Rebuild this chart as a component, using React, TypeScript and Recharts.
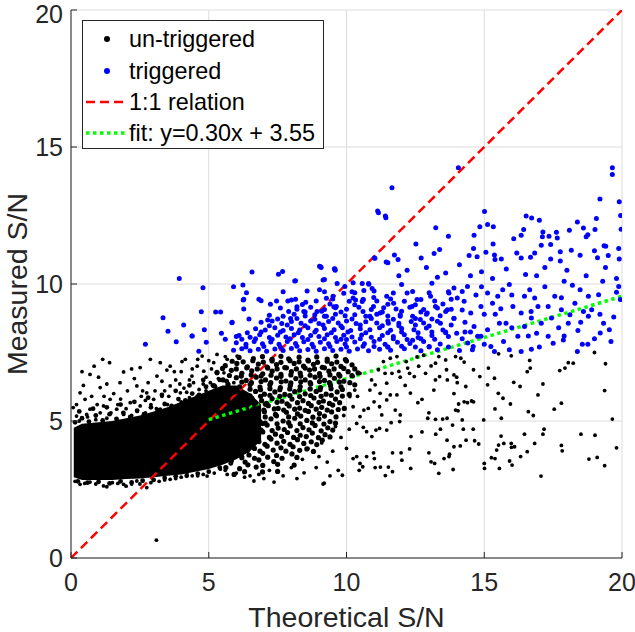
import { ComposedChart, Scatter, Line, Area, XAxis, YAxis, CartesianGrid } from 'recharts'

const xTicks = [0, 5, 10, 15, 20]
const yTicks = [0, 5, 10, 15, 20]

// solid part of the un-triggered cloud: [x, low, high]
const coreBand: [number, number, number][] = [
  [0.1, 2.95, 4.75], [0.4, 2.85, 4.9], [1, 2.85, 4.95], [1.5, 2.85, 5.0], [2, 2.88, 5.1],
  [2.5, 2.9, 5.2], [3, 2.95, 5.35], [3.5, 3.0, 5.5], [4, 3.05, 5.7], [4.5, 3.15, 5.9],
  [5, 3.25, 6.1], [5.5, 3.4, 6.3], [6, 3.6, 6.3], [6.5, 3.9, 6.0], [6.9, 4.3, 5.6],
]

// fuzzy rim of the solid part
const untriggeredEdge: [number, number][] = [
  [0.15, 4.95], [0.4, 5.1], [0.65, 4.98], [0.9, 5.2], [1.15, 5.02], [1.4, 5.25], [1.65, 5.08], [1.9, 5.3], [2.15, 5.15], [2.4, 5.38],
  [2.65, 5.25], [2.9, 5.5], [3.15, 5.4], [3.4, 5.62], [3.65, 5.55], [3.9, 5.8], [4.15, 5.75], [4.4, 6.0], [4.65, 5.95], [4.9, 6.25],
  [5.15, 6.3], [5.4, 6.5], [5.65, 6.45], [0.3, 5.35], [0.8, 5.45], [1.3, 5.5], [1.8, 5.6], [2.3, 5.7], [2.8, 5.85], [3.3, 5.95],
  [3.8, 6.1], [4.3, 6.3], [4.8, 6.5], [5.3, 6.75],
  [0.25, 2.8], [0.6, 2.75], [1.0, 2.78], [1.4, 2.72], [1.8, 2.8], [2.2, 2.76], [2.6, 2.82], [3.0, 2.85], [3.4, 2.92], [3.8, 2.98],
  [4.2, 3.0], [4.6, 3.08], [5.0, 3.15], [5.4, 3.3], [5.8, 3.45], [6.2, 3.7],
  [6.6, 4.2], [6.7, 5.4], [6.95, 4.9], [7.05, 5.6], [6.8, 4.6],
]

// busy part of the un-triggered cloud, x 5..10.5
const untriggeredMid: [number, number][] = [
  [6.1, 7.32], [6.62, 7.28], [6.95, 7.35], [7.3, 7.25], [7.62, 7.36], [7.9, 7.27], [8.28, 7.33], [8.6, 7.22], [8.92, 7.34], [9.3, 7.26], [9.62, 7.37], [9.96, 7.24],
  [5.85, 7.18], [6.25, 7.16], [6.6, 7.2], [6.98, 7.15], [7.3, 7.19], [7.62, 7.14], [7.95, 7.2], [8.28, 7.16], [8.62, 7.19], [8.95, 7.14], [9.3, 7.18], [9.65, 7.15], [10.0, 7.19],
  [5.6, 7.02], [6.02, 7.1], [6.4, 6.98], [6.8, 7.08], [7.12, 6.97], [7.46, 7.06], [7.76, 6.95], [8.1, 7.1], [8.44, 7.0], [8.8, 7.07], [9.12, 6.96], [9.46, 7.09], [9.8, 6.99], [10.2, 7.05],
  [5.5, 6.92], [6.0, 6.9], [6.38, 6.94], [6.76, 6.9], [7.14, 6.93], [7.48, 6.9], [7.82, 6.94], [8.18, 6.9], [8.5, 6.93], [8.84, 6.9], [9.2, 6.94], [9.55, 6.9], [9.9, 6.92], [10.3, 6.9],
  [5.3, 6.78], [5.82, 6.85], [6.2, 6.74], [6.56, 6.83], [6.96, 6.72], [7.3, 6.82], [7.62, 6.7], [8.0, 6.8], [8.32, 6.75], [8.66, 6.86], [9.02, 6.73], [9.36, 6.82], [9.72, 6.7], [10.06, 6.8], [10.42, 6.76],
  [5.75, 6.66], [6.18, 6.64], [6.54, 6.68], [6.9, 6.64], [7.26, 6.67], [7.62, 6.63], [7.98, 6.68], [8.34, 6.64], [8.68, 6.67], [9.04, 6.63], [9.4, 6.68], [9.76, 6.64], [10.2, 6.66],
  [5.52, 6.5], [6.0, 6.58], [6.36, 6.48], [6.72, 6.6], [7.06, 6.5], [7.46, 6.57], [7.8, 6.46], [8.16, 6.55], [8.5, 6.5], [8.86, 6.6], [9.2, 6.48], [9.56, 6.56], [9.9, 6.45],
  [6.2, 6.42], [6.55, 6.4], [6.9, 6.44], [7.25, 6.4], [7.63, 6.43], [7.98, 6.39], [8.34, 6.43], [8.68, 6.4], [9.02, 6.44], [9.38, 6.4], [9.74, 6.42], [10.12, 6.4],
  [5.2, 6.28], [5.7, 6.34], [6.12, 6.25], [6.5, 6.33], [6.86, 6.24], [7.22, 6.32], [7.6, 6.22], [7.96, 6.3], [8.32, 6.26], [8.7, 6.35], [9.06, 6.22], [9.42, 6.3], [9.8, 6.25], [10.3, 6.32],
  [6.5, 6.16], [6.88, 6.14], [7.22, 6.18], [7.58, 6.14], [7.94, 6.17], [8.3, 6.13], [8.68, 6.17], [9.04, 6.14], [9.44, 6.18], [9.85, 6.15],
  [5.9, 6.05], [6.3, 6.0], [6.7, 6.08], [7.02, 5.98], [7.4, 6.06], [7.76, 5.97], [8.12, 6.07], [8.5, 5.99], [8.9, 6.08], [9.26, 5.98], [9.66, 6.06], [10.1, 5.97],
  [6.5, 5.92], [6.88, 5.9], [7.22, 5.94], [7.58, 5.9], [7.94, 5.93], [8.3, 5.89], [8.7, 5.93], [9.08, 5.9], [9.45, 5.94], [9.85, 5.91],
  [5.7, 5.8], [6.16, 5.75], [6.56, 5.84], [6.92, 5.74], [7.3, 5.82], [7.66, 5.72], [8.02, 5.8], [8.42, 5.74], [8.82, 5.84], [9.16, 5.73], [9.6, 5.8],
  [6.7, 5.66], [7.1, 5.64], [7.48, 5.68], [7.84, 5.63], [8.22, 5.67], [8.62, 5.64], [9.0, 5.68], [9.38, 5.64], [9.75, 5.67],
  [5.9, 5.5], [6.4, 5.58], [6.8, 5.47], [7.16, 5.56], [7.52, 5.46], [7.92, 5.55], [8.3, 5.47], [8.72, 5.56], [9.1, 5.5], [9.5, 5.58], [9.92, 5.46],
  [6.6, 5.42], [7.0, 5.4], [7.38, 5.44], [7.72, 5.4], [8.12, 5.43], [8.5, 5.39], [8.9, 5.43], [9.3, 5.4], [9.7, 5.42],
  [6.2, 5.3], [6.6, 5.25], [7.02, 5.34], [7.42, 5.24], [7.82, 5.32], [8.22, 5.26], [8.62, 5.35], [9.02, 5.27], [9.46, 5.33],
  [6.65, 5.17], [7.05, 5.15], [7.46, 5.19], [7.9, 5.15], [8.34, 5.18], [8.78, 5.14], [9.2, 5.18], [9.62, 5.15],
  [6.42, 5.05], [6.86, 4.98], [7.26, 5.08], [7.7, 5.0], [8.12, 5.1], [8.56, 5.02], [9.0, 5.08], [9.4, 4.98],
  [7.05, 4.92], [7.48, 4.9], [7.9, 4.94], [8.32, 4.9], [8.76, 4.93], [9.18, 4.89], [9.6, 4.92],
  [6.3, 4.8], [6.72, 4.76], [7.12, 4.85], [7.52, 4.74], [7.96, 4.82], [8.42, 4.76], [8.86, 4.84], [9.32, 4.75],
  [6.9, 4.67], [7.3, 4.65], [7.74, 4.69], [8.2, 4.65], [8.64, 4.68], [9.08, 4.64], [9.5, 4.67],
  [6.1, 4.55], [6.56, 4.5], [6.96, 4.6], [7.42, 4.52], [7.86, 4.58], [8.32, 4.48], [8.76, 4.56], [9.22, 4.5],
  [6.78, 4.42], [7.2, 4.4], [7.64, 4.44], [8.08, 4.4], [8.54, 4.43], [8.98, 4.39], [9.4, 4.42],
  [6.4, 4.3], [6.82, 4.25], [7.26, 4.34], [7.72, 4.26], [8.22, 4.32], [8.72, 4.24], [9.12, 4.3],
  [6.6, 4.17], [7.04, 4.15], [7.48, 4.19], [7.95, 4.15], [8.45, 4.18], [8.92, 4.14],
  [6.22, 4.05], [6.66, 4.0], [7.12, 4.08], [7.62, 4.02], [8.06, 4.06], [8.56, 3.98],
  [6.4, 3.92], [6.86, 3.9], [7.34, 3.94], [7.8, 3.9], [8.3, 3.93], [8.8, 3.89],
  [6.02, 3.8], [6.46, 3.76], [6.96, 3.82], [7.46, 3.74], [8.02, 3.8],
  [6.2, 3.66], [6.66, 3.64], [7.14, 3.68], [7.66, 3.64], [8.2, 3.67],
  [5.82, 3.55], [6.32, 3.5], [6.82, 3.58], [7.36, 3.52],
  [6.42, 3.4], [6.96, 3.38], [7.5, 3.42], [8.1, 3.39],
  [5.62, 3.3], [6.12, 3.26], [6.72, 3.32], [6.3, 3.15], [6.95, 3.14], [7.5, 3.16], [5.92, 3.05],
]

const untriggeredSparse: [number, number][] = [
  [0.69, 6.7], [1.4, 7.13], [0.84, 7.0], [0.33, 6.03], [0.08, 5.49], [0.51, 5.79], [1.06, 6.22], [1.91, 6.79], [2.51, 6.95], [2.88, 7.25],
  [3.24, 7.13], [3.48, 6.86], [4.03, 7.17], [4.15, 7.25], [4.76, 7.37], [3.12, 6.64], [2.39, 6.28], [2.75, 6.03], [1.78, 6.4], [1.42, 5.79],
  [2.15, 5.67], [3.0, 5.79], [3.6, 6.28], [3.97, 6.03], [4.39, 6.64], [4.58, 7.0], [4.82, 6.82], [0.69, 5.43], [1.18, 5.55], [1.66, 5.43],
  [2.51, 5.55], [0.2, 5.18], [0.57, 5.24], [1.06, 5.3], [1.91, 5.24], [3.24, 5.43], [3.85, 5.55], [4.58, 5.91], [5.06, 6.4], [5.18, 7.13],
  [5.3, 7.43], [5.67, 7.25], [6.03, 7.37], [5.55, 6.76], [5.91, 6.4],
  [0.3, 5.0], [0.9, 5.05], [1.3, 5.1], [1.7, 5.0], [2.2, 5.2], [2.7, 5.3], [3.1, 5.45], [3.5, 5.6], [4.0, 5.7], [4.3, 5.85],
  [4.7, 5.8], [5.2, 5.9], [2.0, 5.45], [2.9, 5.6], [3.3, 5.9], [4.1, 6.2], [4.9, 6.1], [5.4, 6.0], [1.2, 5.9], [2.6, 6.1], [3.8, 6.5], [4.4, 6.9],
  [0.2, 5.6], [0.45, 6.3], [0.75, 5.9], [1.0, 6.6], [1.3, 6.35], [1.55, 6.0], [1.8, 5.8], [2.05, 6.1], [2.3, 6.55], [2.55, 5.9],
  [2.8, 6.4], [3.05, 6.1], [3.3, 6.45], [3.55, 5.9], [3.75, 6.8], [3.95, 6.35], [4.2, 6.05], [4.45, 6.4], [4.65, 6.15], [4.9, 6.6],
  [5.1, 6.9], [5.35, 6.55], [0.6, 5.15], [1.45, 5.3], [2.4, 5.35], [0.95, 5.6], [1.7, 5.6], [2.7, 5.75], [3.4, 6.1], [4.3, 6.5],
  [5.0, 7.2], [4.6, 7.25], [3.6, 7.0], [2.2, 6.9], [1.15, 7.25], [0.4, 6.8], [5.6, 7.35], [5.25, 6.25], [4.8, 6.35], [4.0, 6.8],
  [0.33, 2.69], [1.18, 2.63], [1.91, 2.69], [2.75, 2.57], [0.69, 2.77], [2.39, 2.81], [3.6, 2.87], [4.21, 3.11], [4.94, 2.99], [5.42, 3.24],
  [5.67, 3.05], [6.64, 2.81], [7.37, 2.77], [8.46, 3.11], [9.19, 2.73], [6.82, 3.05], [0.15, 2.8], [1.5, 2.75], [2.2, 2.7], [3.2, 2.8],
  [4.0, 2.95], [4.6, 3.0], [5.2, 3.1], [3.1, 0.65],
  [0.5, 2.72], [0.9, 2.7], [1.3, 2.6], [1.7, 2.72], [2.0, 2.62], [2.5, 2.7], [2.9, 2.75], [3.4, 2.85], [3.8, 2.9], [4.4, 3.0],
  [4.8, 3.05], [5.6, 3.2], [6.0, 3.1], [6.3, 2.95], [7.0, 2.9],
  [9.1, 4.2], [9.5, 3.9], [9.8, 4.4], [9.3, 3.5], [9.7, 3.2], [9.0, 3.7], [8.9, 3.3], [8.4, 3.6], [8.0, 3.3], [7.7, 3.0],
  [8.6, 4.0], [9.6, 4.8], [9.9, 5.2], [10.1, 4.7], [10.4, 5.9], [7.2, 3.2], [6.5, 3.0], [8.2, 2.9], [9.4, 3.0],
  [15.52, 7.45], [15.98, 7.38], [16.65, 7.21], [16.67, 6.93], [16.56, 6.8], [17.74, 6.84], [17.93, 6.93], [18.05, 7.13], [18.23, 7.11], [19.0, 7.5],
  [19.4, 7.09], [19.37, 6.11], [19.65, 5.07], [19.8, 4.02], [19.02, 4.48], [18.51, 4.52], [19.37, 3.37], [19.1, 3.67], [18.8, 3.61], [17.8, 4.11],
  [17.83, 3.91], [17.06, 2.99], [17.17, 4.7], [17.13, 4.52], [16.83, 4.18], [16.56, 3.88], [16.32, 3.7], [16.46, 4.52], [16.1, 4.06], [15.98, 4.18],
  [15.99, 4.04], [15.71, 4.18], [15.61, 4.45], [15.52, 4.12], [15.45, 3.94], [15.39, 3.63], [15.26, 3.66], [15.55, 3.27], [15.92, 3.54], [16.01, 3.39],
  [15.0, 3.45], [15.01, 3.27], [14.98, 5.04], [15.62, 5.1], [15.39, 5.44], [15.95, 5.62], [15.68, 5.83], [15.51, 6.01], [15.12, 6.32], [15.15, 6.93],
  [15.37, 6.56], [16.07, 6.41], [16.3, 6.26], [16.95, 5.95], [17.13, 6.35], [16.6, 5.34], [16.78, 5.2], [17.54, 5.43], [17.8, 5.65], [14.84, 6.62],
  [14.61, 6.87], [14.39, 5.67], [14.61, 5.7], [14.27, 5.7], [14.07, 5.62], [13.96, 5.4], [14.2, 5.04], [14.34, 4.3], [14.65, 4.28], [14.6, 4.7],
  [14.24, 4.7], [14.8, 4.16], [14.13, 4.09], [13.9, 4.06], [13.85, 4.85], [13.65, 4.3], [13.74, 3.79], [13.72, 3.7], [13.54, 3.63], [13.87, 3.23],
  [13.35, 3.09], [13.2, 3.45], [13.07, 3.51], [12.99, 3.84], [13.24, 4.52], [13.41, 4.7], [13.49, 5.07], [13.65, 5.1], [13.23, 5.06], [12.95, 5.1],
  [12.99, 5.3], [12.74, 4.6], [12.34, 4.43], [12.29, 3.98], [12.33, 3.27], [12.01, 3.57], [11.98, 3.84], [11.67, 3.84], [11.67, 3.15], [11.41, 3.01],
  [11.52, 3.32], [11.23, 3.32], [11.04, 3.3], [11.01, 3.63], [10.98, 3.84], [10.73, 3.7], [10.59, 3.33], [10.46, 3.2], [10.37, 3.7], [10.49, 3.45],
  [10.24, 3.63], [10.0, 4.0], [9.85, 3.02], [9.15, 2.7],
  [14.54, 5.73], [14.05, 5.37], [14.33, 6.26], [13.9, 6.0], [14.27, 7.15], [14.15, 7.29], [13.96, 7.35], [13.6, 7.23], [13.35, 7.35], [13.23, 7.11],
  [13.07, 7.01], [13.23, 6.5], [13.17, 6.13], [13.38, 6.62], [13.63, 6.87], [13.9, 6.68], [14.0, 6.6], [13.66, 6.5], [14.02, 6.4], [12.87, 6.74],
  [12.62, 7.0], [12.46, 6.62], [12.29, 6.74], [12.17, 7.17], [12.8, 7.4], [12.56, 7.34], [12.74, 5.79], [12.59, 5.67], [12.32, 6.02], [12.13, 6.3],
  [11.95, 6.6], [11.83, 5.95], [11.59, 5.95], [11.46, 5.77], [11.77, 5.4], [11.95, 5.22], [11.93, 4.98], [11.62, 4.94], [11.46, 4.67], [11.28, 5.22],
  [11.2, 5.52], [11.0, 5.7], [11.2, 4.73], [11.07, 4.67], [10.92, 4.43], [10.73, 4.61], [10.61, 4.77], [10.49, 5.16], [10.63, 5.4], [10.79, 5.46],
  [10.85, 6.13], [11.04, 6.32], [11.22, 6.01], [11.46, 6.38], [11.65, 6.74], [11.9, 6.81], [10.91, 6.5], [11.16, 6.87], [11.34, 7.17], [11.59, 7.29],
  [11.83, 7.35], [12.22, 6.93], [11.4, 6.74], [10.49, 6.74], [10.24, 6.62], [10.3, 6.13], [10.12, 5.89], [10.24, 5.52], [10.37, 4.91],
]

const triggered: [number, number][] = [
  [5.9, 7.58], [6.2, 7.64], [6.5, 7.56], [6.8, 7.62], [7.1, 7.55], [7.4, 7.63], [7.7, 7.57], [8.0, 7.65], [8.3, 7.56], [8.6, 7.61], [8.9, 7.55], [9.2, 7.64],
  [9.5, 7.57], [9.8, 7.62], [10.1, 7.55], [10.4, 7.63], [10.8, 7.56], [11.2, 7.62], [11.6, 7.58], [12.1, 7.64], [12.7, 7.56], [13.3, 7.6], [14.1, 7.57],
  [6.0, 7.86], [6.35, 7.8], [6.65, 7.9], [6.95, 7.82], [7.25, 7.88], [7.55, 7.8], [7.85, 7.9], [8.15, 7.83], [8.45, 7.89], [8.75, 7.8], [9.05, 7.87],
  [9.35, 7.82], [9.65, 7.9], [9.95, 7.81], [10.3, 7.88], [10.65, 7.82], [11.0, 7.9], [11.4, 7.8], [11.85, 7.87], [12.3, 7.83], [12.8, 7.9], [13.4, 7.81],
  [6.1, 8.12], [6.5, 8.06], [6.85, 8.15], [7.2, 8.05], [7.5, 8.13], [7.8, 8.07], [8.1, 8.15], [8.4, 8.05], [8.7, 8.12], [9.0, 8.08], [9.3, 8.15],
  [9.6, 8.05], [9.9, 8.13], [10.2, 8.07], [10.55, 8.14], [10.9, 8.06], [11.3, 8.12], [11.7, 8.08], [12.1, 8.15], [12.6, 8.05], [13.1, 8.12], [13.7, 8.08],
  [6.7, 8.37], [7.05, 8.32], [7.4, 8.4], [7.7, 8.3], [8.0, 8.38], [8.3, 8.32], [8.6, 8.4], [8.9, 8.31], [9.2, 8.38], [9.55, 8.33], [9.85, 8.4],
  [10.15, 8.3], [10.5, 8.37], [10.85, 8.33], [11.2, 8.4], [11.6, 8.31], [12.0, 8.38], [12.45, 8.33], [12.9, 8.39], [13.5, 8.32],
  [6.9, 8.6], [7.3, 8.65], [7.65, 8.56], [8.0, 8.63], [8.35, 8.57], [8.7, 8.65], [9.0, 8.56], [9.35, 8.63], [9.7, 8.58], [10.0, 8.65], [10.35, 8.56],
  [10.7, 8.62], [11.1, 8.58], [11.5, 8.65], [11.9, 8.57], [12.35, 8.63], [12.8, 8.58], [13.3, 8.64],
  [7.2, 8.86], [7.7, 8.82], [8.1, 8.9], [8.5, 8.83], [8.85, 8.88], [9.2, 8.82], [9.6, 8.9], [9.95, 8.84], [10.3, 8.88], [10.7, 8.82], [11.1, 8.9],
  [11.5, 8.83], [11.95, 8.88], [12.4, 8.82], [12.9, 8.9], [13.4, 8.84],
  [7.6, 9.12], [8.2, 9.08], [8.7, 9.15], [9.2, 9.07], [9.6, 9.13], [10.0, 9.08], [10.45, 9.15], [10.9, 9.07], [11.35, 9.13], [11.8, 9.09], [12.3, 9.15],
  [12.8, 9.07], [13.3, 9.12], [13.8, 9.08],
  [8.0, 9.42], [8.9, 9.38], [9.5, 9.45], [10.1, 9.37], [10.6, 9.43], [11.1, 9.38], [11.6, 9.45], [12.1, 9.37], [12.7, 9.43], [13.2, 9.38], [13.8, 9.44],
  [9.2, 9.72], [10.3, 9.68], [11.0, 9.74], [11.7, 9.67], [12.4, 9.73], [13.0, 9.68], [13.7, 9.72], [10.8, 10.02], [12.0, 9.98], [13.1, 10.03],
  [6.35, 7.7], [7.0, 7.72], [7.6, 7.7], [8.2, 7.73], [8.8, 7.7], [9.4, 7.72], [10.0, 7.7], [10.6, 7.73], [7.3, 7.98], [7.95, 8.0], [8.6, 7.97],
  [9.2, 8.0], [9.8, 7.98], [10.5, 8.0], [11.2, 7.98], [7.6, 8.25], [8.25, 8.22], [8.85, 8.25], [9.45, 8.22], [10.05, 8.25], [10.7, 8.22],
  [8.5, 8.48], [9.15, 8.5], [9.8, 8.47], [10.5, 8.5], [11.3, 8.48],
  [11.0, 7.72], [11.5, 7.7], [12.0, 7.73], [12.5, 7.7], [13.0, 7.72], [13.7, 7.7], [14.6, 7.72],
  [6.2, 7.98], [6.7, 8.0], [10.0, 7.97], [11.7, 8.0], [12.2, 7.97], [12.7, 8.0], [13.2, 7.98], [14.2, 8.0],
  [6.4, 8.22], [6.9, 8.25], [11.5, 8.22], [12.0, 8.25], [12.6, 8.22], [13.1, 8.25], [13.6, 8.22], [14.3, 8.25],
  [7.2, 8.48], [7.85, 8.5], [11.9, 8.48], [12.5, 8.5], [13.0, 8.47], [13.8, 8.5],
  [7.5, 8.72], [8.2, 8.74], [8.85, 8.71], [9.5, 8.74], [10.2, 8.72], [10.9, 8.74], [11.7, 8.71], [12.5, 8.74], [13.1, 8.72], [13.9, 8.74],
  [7.9, 9.0], [8.5, 8.98], [9.1, 9.01], [9.8, 8.98], [10.6, 9.0], [11.3, 8.98], [12.0, 9.01], [12.7, 8.98], [13.6, 9.0],
  [8.4, 9.25], [9.4, 9.27], [10.3, 9.24], [11.5, 9.26], [12.5, 9.24], [13.5, 9.27],
  // sparse, left and top
  [3.93, 10.2], [2.7, 7.8], [3.34, 8.77], [3.52, 8.28], [3.82, 7.89], [4.09, 8.5], [4.39, 8.1], [4.73, 8.99], [4.79, 9.86], [4.84, 8.33],
  [4.91, 7.87], [4.64, 7.55], [5.25, 8.98], [5.43, 8.98], [5.46, 8.2], [5.84, 8.59], [6.24, 9.96], [6.57, 10.44], [6.27, 9.44], [7.53, 10.36],
  [7.68, 10.46], [8.12, 10.11], [9.08, 10.6], [9.59, 10.5], [11.16, 12.6], [11.43, 12.42], [11.5, 10.78], [5.9, 9.9], [4.4, 8.1], [5.6, 7.98],
  [5.85, 8.6], [6.0, 8.08], [6.37, 9.68], [6.25, 9.42], [6.27, 9.09], [6.46, 8.72], [6.82, 9.44], [6.9, 9.39], [7.14, 8.69], [7.24, 9.26],
  [7.46, 9.38], [7.7, 9.72], [7.87, 9.38], [8.15, 10.12], [8.15, 9.44], [8.2, 9.17], [8.57, 9.74], [8.52, 9.33], [8.45, 9.0], [7.97, 8.74],
  [9.06, 10.63], [9.15, 10.15], [9.58, 10.55], [9.66, 10.02], [9.27, 9.48], [8.93, 9.0], [9.54, 9.17], [9.9, 9.66], [10.24, 10.05], [10.57, 10.02],
  [10.81, 9.99], [10.2, 9.72], [10.63, 9.76], [10.93, 9.84], [10.99, 9.51], [11.03, 10.94], [10.33, 9.42], [10.57, 9.36],
  [14.06, 14.24], [11.65, 13.51], [11.13, 12.66], [11.41, 12.48], [19.65, 14.24], [19.65, 14.0], [19.2, 13.1], [19.9, 13.0], [19.95, 12.5], [19.97, 12.0],
  [15.01, 12.65], [13.24, 12.05], [13.7, 11.74], [14.84, 12.09], [15.12, 12.17], [15.33, 12.09], [16.52, 12.48], [16.72, 12.41], [17.0, 12.33], [18.38, 12.26],
  [19.07, 12.39], [18.09, 11.96], [18.6, 12.04], [19.02, 11.99], [17.13, 11.9], [16.43, 11.99], [16.07, 11.65], [16.34, 11.78], [17.11, 11.72], [17.35, 11.74],
  [17.62, 11.89], [17.65, 11.68], [18.76, 11.8], [18.7, 11.72], [14.63, 11.78], [15.32, 11.46], [14.61, 11.3], [15.06, 11.16], [12.52, 11.46], [17.07, 11.41],
  [17.41, 11.44], [19.35, 11.4], [19.41, 11.38], [19.88, 11.3], [18.16, 11.23], [16.18, 11.13], [16.83, 11.13], [17.76, 11.18], [18.48, 11.05], [19.0, 11.21],
  [19.5, 11.04], [19.9, 10.91], [11.74, 11.06], [12.71, 10.95], [13.18, 11.11], [13.38, 11.26], [14.45, 11.04], [14.74, 10.99], [15.37, 11.06], [15.39, 10.89],
  [15.62, 10.91], [16.34, 10.95], [16.68, 10.98], [17.41, 10.91], [17.76, 10.84], [19.11, 10.96], [11.87, 10.89], [11.44, 10.8], [11.01, 10.95], [9.02, 10.65],
  [9.56, 10.56], [9.2, 10.16], [12.2, 10.5], [12.9, 10.6], [13.6, 10.4], [14.1, 10.7], [14.9, 10.45], [15.8, 10.55], [16.5, 10.35], [17.2, 10.6],
  [18.0, 10.5], [18.7, 10.3], [19.4, 10.6], [19.8, 10.2], [13.3, 10.25], [15.3, 10.2], [17.9, 10.1], [11.9, 10.3], [14.5, 10.3], [16.9, 10.3],
  // x 9..20, below 10
  [9.02, 9.79], [9.51, 9.55], [9.27, 8.82], [9.63, 9.18], [9.94, 9.91], [10.24, 9.49], [10.61, 9.43], [10.98, 9.18], [10.85, 8.82], [11.22, 8.94],
  [11.46, 9.55], [11.71, 9.3], [11.52, 8.57], [11.95, 8.82], [12.2, 9.67], [12.38, 9.18], [12.56, 9.43], [12.68, 8.7], [12.93, 8.94], [13.05, 9.55],
  [13.23, 9.18], [13.41, 8.57], [13.66, 9.06], [13.72, 9.67], [13.9, 9.85], [14.02, 9.49], [14.2, 9.73], [14.39, 9.91], [14.27, 9.37], [14.51, 8.94],
  [14.63, 8.45], [14.76, 8.09], [14.57, 7.6], [14.88, 9.18], [15.12, 9.67], [15.3, 9.3], [15.49, 9.55], [15.67, 9.79], [15.91, 9.98], [15.79, 8.57],
  [16.04, 9.18], [16.34, 8.94], [16.46, 9.55], [16.65, 9.79], [16.83, 9.49], [16.95, 9.18], [17.07, 8.57], [17.32, 9.18], [17.56, 9.55], [17.8, 9.06],
  [18.05, 8.57], [18.29, 9.3], [18.48, 9.79], [18.78, 9.55], [18.9, 9.06], [19.15, 9.61], [19.33, 8.57], [19.54, 8.33], [19.21, 8.21], [19.94, 9.43],
  [19.88, 9.91], [17.5, 7.84], [17.87, 7.96], [18.38, 7.54], [18.56, 7.8], [18.76, 7.8], [16.34, 7.54], [16.71, 7.62], [17.32, 8.09], [15.91, 7.6],
  [15.24, 7.72], [15.37, 7.54], [14.88, 8.09], [15.12, 8.33], [15.55, 8.57], [16.22, 8.09], [16.71, 8.76], [17.44, 8.76], [18.11, 8.88], [18.78, 8.82],
  [16.46, 8.45], [14.3, 8.6], [14.0, 8.2], [14.4, 7.85], [13.9, 8.75], [14.2, 9.05], [13.6, 8.25], [13.0, 7.7], [12.4, 7.95], [11.5, 7.7],
  [14.7, 9.6], [15.0, 8.9], [15.6, 9.1], [16.0, 8.4], [16.9, 8.2], [17.7, 8.4], [18.4, 8.3], [19.0, 8.0], [19.7, 8.8], [19.8, 9.7],
  [14.5, 8.25], [15.0, 7.8], [15.7, 7.9], [16.6, 8.1], [17.0, 7.7], [17.9, 8.1], [18.5, 8.6], [19.2, 8.9], [19.6, 7.9], [16.0, 9.6],
  [17.2, 9.9], [18.2, 9.95], [19.3, 10.1], [15.4, 8.9], [14.9, 9.9], [16.7, 9.0], [17.8, 9.5], [18.6, 9.0],
]

const unityLine = [{ x: 0, y: 0 }, { x: 20, y: 20 }]
const fitLine = [{ x: 5, y: 5.05 }, { x: 20, y: 9.55 }]

const toPoints = (arr: [number, number][]) => arr.map(([x, y]) => ({ x, y }))
const coreData = coreBand.map(([x, lo, hi]) => ({ x, band: [lo, hi] }))

const FONT = '"Liberation Sans", Arial, Helvetica, sans-serif'
const INK = '#262626'

const dot = (r: number, fill: string) => (p: any) => <circle cx={p.cx} cy={p.cy} r={r} fill={fill} />

const BottomTick = ({ x, y, payload }: any) => (
  <g>
    <line x1={x} y1={y} x2={x} y2={y - 6} stroke={INK} />
    <text x={x} y={y + 33} textAnchor="middle" fill={INK} fontSize={25} fontFamily={FONT}>{payload.value}</text>
  </g>
)
// the top label sits a little lower so it stays inside the picture
const LeftTick = ({ x, y, payload }: any) => (
  <g>
    <line x1={x} y1={y} x2={x + 6} y2={y} stroke={INK} />
    <text x={x - 8} y={y + (payload.value === 20 ? 13 : 9)} textAnchor="end" fill={INK} fontSize={25} fontFamily={FONT}>{payload.value}</text>
  </g>
)
const TopTick = ({ x, y }: any) => <line x1={x} y1={y} x2={x} y2={y + 6} stroke={INK} />
const RightTick = ({ x, y }: any) => <line x1={x} y1={y} x2={x - 6} y2={y} stroke={INK} />

function LegendBox() {
  const rows = [39, 71, 102, 133]
  return (
    <svg width={635} height={632} style={{ position: 'absolute', left: 0, top: 0, pointerEvents: 'none' }}>
      <rect x={82.5} y={20.5} width={241} height={128} fill="#fff" stroke={INK} />
      <circle cx={107} cy={rows[0]} r={3} fill="#000" />
      <circle cx={107} cy={rows[1]} r={3} fill="#0000ff" />
      <line x1={86} y1={rows[2]} x2={127} y2={rows[2]} stroke="#ff0000" strokeWidth={2.5} strokeDasharray="9 5" />
      <line x1={86} y1={rows[3]} x2={127} y2={rows[3]} stroke="#00ff00" strokeWidth={3.5} strokeDasharray="3.5 3.5" />
      {['un-triggered', 'triggered', '1:1 relation', 'fit: y=0.30x + 3.55'].map((t, i) => (
        <text key={t} x={129} y={rows[i] + 8} fontSize={23.4} fontFamily={FONT} fill="#000">{t}</text>
      ))}
    </svg>
  )
}

export default function App() {
  return (
    <div style={{ position: 'absolute', left: 0, top: 0, width: 635, height: 632, background: '#fff' }}>
      <ComposedChart width={635} height={632} margin={{ top: 10, right: 13, bottom: 0, left: 0 }}>
        <CartesianGrid stroke="#dcdcdc" />
        <XAxis dataKey="x" type="number" domain={[0, 20]} ticks={xTicks} allowDataOverflow height={74}
          tickSize={0} tickMargin={0} tickLine={false} tick={<BottomTick />} stroke={INK}
          label={{ value: 'Theoretical S/N', position: 'insideBottom', offset: 5, fill: INK, fontSize: 28.5, fontFamily: FONT }} />
        <YAxis dataKey="y" type="number" domain={[0, 20]} ticks={yTicks} allowDataOverflow width={71}
          tickSize={0} tickMargin={0} tickLine={false} tick={<LeftTick />} stroke={INK}
          label={{ value: 'Measured S/N', angle: -90, position: 'insideLeft', offset: 17, fill: INK, fontSize: 28.5, fontFamily: FONT, style: { textAnchor: 'middle' } }} />
        <XAxis xAxisId="top" orientation="top" type="number" domain={[0, 20]} ticks={xTicks} height={0}
          tickSize={0} tickMargin={0} tickLine={false} tick={<TopTick />} stroke={INK} />
        <YAxis yAxisId="right" orientation="right" type="number" domain={[0, 20]} ticks={yTicks} width={0}
          tickSize={0} tickMargin={0} tickLine={false} tick={<RightTick />} stroke={INK} />
        <Area data={coreData} dataKey="band" stroke="none" fill="#000" fillOpacity={1} isAnimationActive={false} />
        <Scatter data={toPoints(untriggeredEdge)} shape={dot(2.4, '#000')} isAnimationActive={false} />
        <Scatter data={toPoints(untriggeredMid)} shape={dot(2.6, '#000')} isAnimationActive={false} />
        <Scatter data={toPoints(untriggeredSparse)} shape={dot(1.9, '#000')} isAnimationActive={false} />
        <Scatter data={toPoints(triggered)} shape={dot(2.5, '#0000ff')} isAnimationActive={false} />
        <Line data={unityLine} dataKey="y" stroke="#ff0000" strokeWidth={2.5} strokeDasharray="9 5" dot={false} isAnimationActive={false} />
        <Line data={fitLine} dataKey="y" stroke="#00ff00" strokeWidth={3.5} strokeDasharray="3.5 3.5" dot={false} isAnimationActive={false} />
      </ComposedChart>
      <LegendBox />
    </div>
  )
}
